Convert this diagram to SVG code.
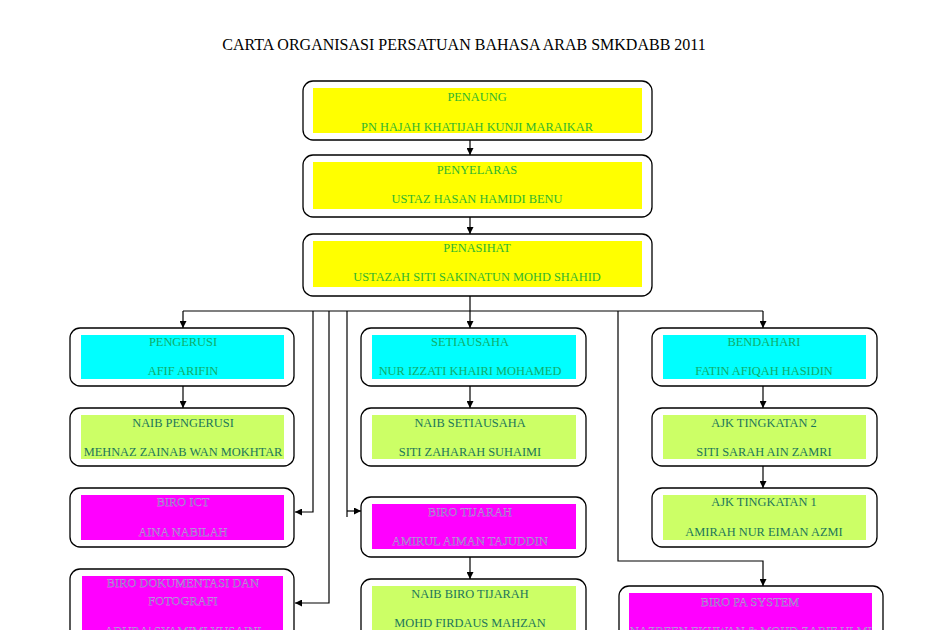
<svg xmlns="http://www.w3.org/2000/svg" width="928" height="630" viewBox="0 0 928 630">
<style>
.outer{fill:#fff;stroke:#000;stroke-width:1.3}
.y{fill:#ffff00}.c{fill:#00ffff}.l{fill:#ccff66}.m{fill:#ff00ff}
text{font-family:"Liberation Serif","DejaVu Serif",serif;font-size:12.4px;text-anchor:middle}
.ty{fill:#2fb52f}.tc{fill:#10ad6a}.tl{fill:#1c765a}.tm{fill:#7d68b4;stroke:#d9b8f0;stroke-width:0.25}
.title{font-size:16px;fill:#000;stroke:none}
.con{fill:none;stroke:#000;stroke-width:1.2}
</style>
<defs>
<marker id="ah" viewBox="0 0 10 10" refX="10" refY="5" markerWidth="7" markerHeight="7" markerUnits="userSpaceOnUse" orient="auto"><path d="M0,0 L10,5 L0,10 z" fill="#000"/></marker>
<clipPath id="clipPA"><rect x="629" y="593" width="243" height="40"/></clipPath>
</defs>
<rect width="928" height="630" fill="#fff"/>
<text class="title" x="464" y="50">CARTA ORGANISASI PERSATUAN BAHASA ARAB SMKDABB 2011</text>

<g id="connectors">
<path class="con" d="M470,140 V155" marker-end="url(#ah)"/>
<path class="con" d="M470,217 V234" marker-end="url(#ah)"/>
<path class="con" d="M470,296 V311 M183,311 H763"/>
<path class="con" d="M183,311 V328" marker-end="url(#ah)"/>
<path class="con" d="M470,311 V328" marker-end="url(#ah)"/>
<path class="con" d="M763,311 V328" marker-end="url(#ah)"/>
<path class="con" d="M183,386 V408" marker-end="url(#ah)"/>
<path class="con" d="M470,386 V408" marker-end="url(#ah)"/>
<path class="con" d="M763,386 V408" marker-end="url(#ah)"/>
<path class="con" d="M763,466 V488" marker-end="url(#ah)"/>
<path class="con" d="M470,557 V579" marker-end="url(#ah)"/>
<path class="con" d="M313,311 V512 H295" marker-end="url(#ah)"/>
<path class="con" d="M329,311 V603 H295" marker-end="url(#ah)"/>
<path class="con" d="M347,311 V517"/>
<path class="con" d="M347,511 H361" marker-end="url(#ah)"/>
<path class="con" d="M618,311 V561 H763 V586" marker-end="url(#ah)"/>
</g>

<g id="penaung">
<rect class="outer" x="303" y="81" width="349" height="59" rx="10"/>
<rect class="y" x="313" y="88" width="329" height="45"/>
<text class="ty" x="477" y="101">PENAUNG</text>
<text class="ty" x="477" y="131">PN HAJAH KHATIJAH KUNJI MARAIKAR</text>
</g>
<g id="penyelaras">
<rect class="outer" x="303" y="155" width="349" height="62" rx="10"/>
<rect class="y" x="313" y="162" width="329" height="47"/>
<text class="ty" x="477" y="174">PENYELARAS</text>
<text class="ty" x="477" y="203">USTAZ HASAN HAMIDI  BENU</text>
</g>
<g id="penasihat">
<rect class="outer" x="303" y="234" width="349" height="62" rx="10"/>
<rect class="y" x="313" y="241" width="329" height="46"/>
<text class="ty" x="477" y="252">PENASIHAT</text>
<text class="ty" x="477" y="281">USTAZAH SITI SAKINATUN MOHD SHAHID</text>
</g>

<g id="pengerusi">
<rect class="outer" x="70" y="328" width="224" height="58" rx="10"/>
<rect class="c" x="81" y="335" width="203" height="44"/>
<text class="tc" x="183" y="346">PENGERUSI</text>
<text class="tc" x="183" y="375">AFIF ARIFIN</text>
</g>
<g id="naib-pengerusi">
<rect class="outer" x="70" y="408" width="224" height="58" rx="10"/>
<rect class="l" x="81" y="415" width="203" height="44"/>
<text class="tl" x="183" y="427">NAIB PENGERUSI</text>
<text class="tl" x="183" y="456">MEHNAZ ZAINAB WAN MOKHTAR</text>
</g>
<g id="biro-ict">
<rect class="outer" x="70" y="488" width="224" height="59" rx="10"/>
<rect class="m" x="81" y="495" width="203" height="45"/>
<text class="tm" x="183" y="506">BIRO ICT</text>
<text class="tm" x="183" y="536">AINA NABILAH</text>
</g>
<g id="biro-dokumentasi">
<rect class="outer" x="70" y="569" width="224" height="80" rx="10"/>
<rect class="m" x="82" y="576" width="201" height="60"/>
<text class="tm" x="183" y="587">BIRO DOKUMENTASI DAN</text>
<text class="tm" x="183" y="605">FOTOGRAFI</text>
<text class="tm" x="183" y="635">ADURA' SYAMIMI YUSAINI</text>
</g>

<g id="setiausaha">
<rect class="outer" x="361" y="328" width="225" height="58" rx="10"/>
<rect class="c" x="372" y="335" width="204" height="44"/>
<text class="tc" x="470" y="346">SETIAUSAHA</text>
<text class="tc" x="470" y="375">NUR IZZATI KHAIRI MOHAMED</text>
</g>
<g id="naib-setiausaha">
<rect class="outer" x="361" y="408" width="225" height="58" rx="10"/>
<rect class="l" x="372" y="415" width="204" height="44"/>
<text class="tl" x="470" y="427">NAIB SETIAUSAHA</text>
<text class="tl" x="470" y="456">SITI ZAHARAH SUHAIMI</text>
</g>
<g id="biro-tijarah">
<rect class="outer" x="361" y="497" width="225" height="60" rx="10"/>
<rect class="m" x="372" y="504" width="204" height="45"/>
<text class="tm" x="470" y="516">BIRO TIJARAH</text>
<text class="tm" x="470" y="545">AMIRUL AIMAN TAJUDDIN</text>
</g>
<g id="naib-biro-tijarah">
<rect class="outer" x="361" y="579" width="225" height="70" rx="10"/>
<rect class="l" x="372" y="586" width="204" height="55"/>
<text class="tl" x="470" y="598">NAIB BIRO TIJARAH</text>
<text class="tl" x="470" y="627">MOHD FIRDAUS MAHZAN</text>
</g>

<g id="bendahari">
<rect class="outer" x="652" y="328" width="225" height="58" rx="10"/>
<rect class="c" x="663" y="335" width="203" height="44"/>
<text class="tc" x="764" y="346">BENDAHARI</text>
<text class="tc" x="764" y="375">FATIN AFIQAH HASIDIN</text>
</g>
<g id="ajk-tingkatan-2">
<rect class="outer" x="652" y="408" width="225" height="58" rx="10"/>
<rect class="l" x="663" y="415" width="203" height="44"/>
<text class="tl" x="764" y="427">AJK TINGKATAN 2</text>
<text class="tl" x="764" y="456">SITI SARAH AIN ZAMRI</text>
</g>
<g id="ajk-tingkatan-1">
<rect class="outer" x="652" y="488" width="225" height="59" rx="10"/>
<rect class="l" x="663" y="495" width="203" height="45"/>
<text class="tl" x="764" y="506">AJK TINGKATAN 1</text>
<text class="tl" x="764" y="536">AMIRAH NUR EIMAN AZMI</text>
</g>
<g id="biro-pa-system">
<rect class="outer" x="619" y="586" width="264" height="70" rx="10"/>
<rect class="m" x="629" y="593" width="243" height="55"/>
<text class="tm" x="750" y="606">BIRO PA SYSTEM</text>
<text class="tm" x="630" y="635" style="text-anchor:start" clip-path="url(#clipPA)">NAZREEN EKHWAN &amp; MOHD ZARIF ULMI</text>
</g>
</svg>
